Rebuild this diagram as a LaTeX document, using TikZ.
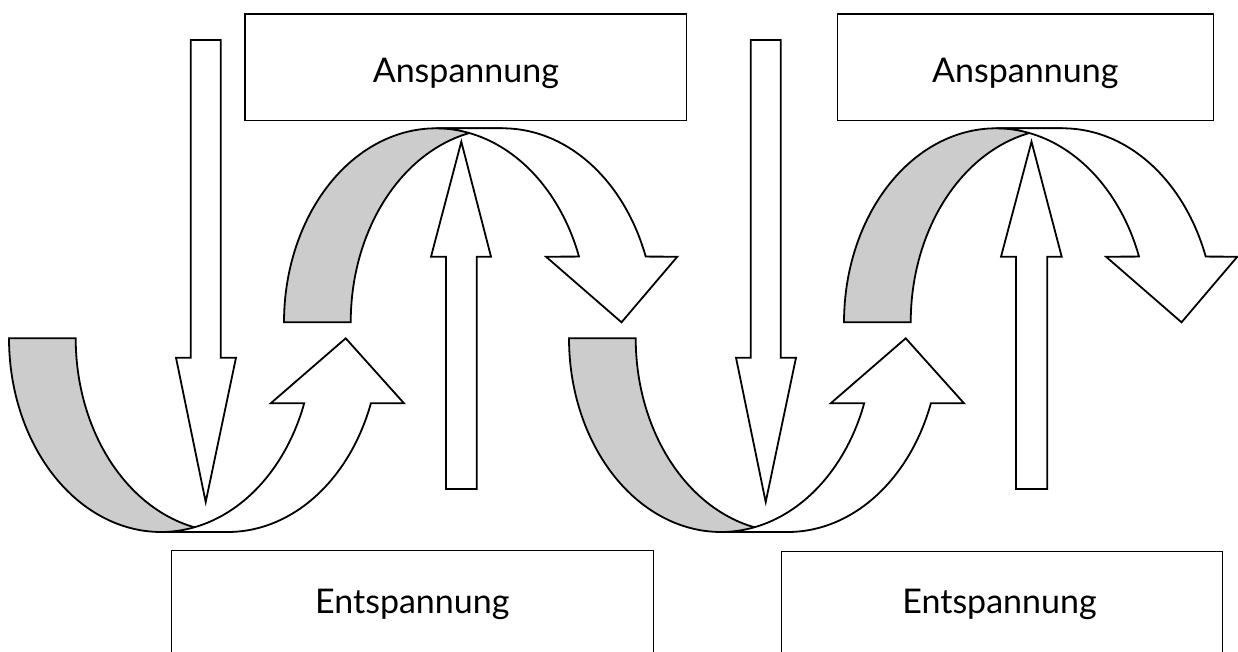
\documentclass[tikz,border=0pt]{standalone}
\usepackage{fontspec}
\setmainfont{Lato}
\definecolor{bandgray}{HTML}{CCCCCC}
\begin{document}
\begin{tikzpicture}[x=1pt,y=-1pt,
  arrowshape/.style={draw=black, line width=1.8pt, fill=white, line join=miter},
  grayband/.style={draw=black, line width=1.8pt, fill=bandgray, line join=miter},
  boxstyle/.style={draw=black, line width=1.4pt, fill=white, inner sep=0pt, rectangle},
  lbl/.style={font=\fontsize{34}{40}\selectfont, inner sep=0pt, anchor=base}]
\useasboundingbox (0,0) rectangle (1238,652);
\clip (0,0) rectangle (1238,652);

% boxes
\node[boxstyle, minimum width=441.7pt, minimum height=106.7pt] (a1) at (465.85,67.35) {};
\node[boxstyle, minimum width=376pt, minimum height=106.7pt] (a2) at (1025.5,67.35) {};
\node[boxstyle, minimum width=481.6pt, minimum height=119.3pt] (e1) at (412.5,610.35) {};
\node[boxstyle, minimum width=441pt, minimum height=118.3pt] (e2) at (1002.2,610.85) {};
\node[lbl] (ta1) at (465.85,83) {Anspannung};
\node[lbl] (ta2) at (1025.3,83) {Anspannung};
\node[lbl] (te1) at (412.3,613.3) {Entspannung};
\node[lbl] (te2) at (999.5,613.3) {Entspannung};

\foreach \s in {0,560}{
\begin{scope}[xshift=\s pt]
  % curved up arrow
  \filldraw[grayband] plot[domain=180:90,samples=60] ({161+152*cos(\x)},{338.3+193.7*sin(\x)})
     -- plot[domain=90:180,samples=60] ({227.7+152*cos(\x)},{338.3+193.7*sin(\x)}) -- cycle;
  \filldraw[arrowshape] plot[domain=90:19.6,samples=60] ({161+152*cos(\x)},{338.3+193.7*sin(\x)})
     -- (270.7,403.3) -- (345.7,338.3) -- (404,403.3)
     -- plot[domain=19.6:90,samples=60] ({227.7+152*cos(\x)},{338.3+193.7*sin(\x)}) -- cycle;
  % curved down arrow
  \filldraw[grayband] plot[domain=180:270,samples=60] ({436+152*cos(\x)},{322.3+194*sin(\x)})
     -- plot[domain=270:180,samples=60] ({502.7+152*cos(\x)},{322.3+194*sin(\x)}) -- cycle;
  \filldraw[arrowshape] plot[domain=270:340.2,samples=60] ({436+152*cos(\x)},{322.3+194*sin(\x)})
     -- (546,256.7) -- (621.5,322.3) -- (677.3,256.7)
     -- plot[domain=340.2:270,samples=60] ({502.7+152*cos(\x)},{322.3+194*sin(\x)}) -- cycle;
  % straight down arrow
  \filldraw[arrowshape] (190.7,40) -- (220.7,40) -- (220.7,357.7) -- (236,357.7) -- (205.7,502)
     -- (176,357.7) -- (190.7,357.7) -- cycle;
\end{scope}
}
% straight up arrows
\filldraw[arrowshape] (446,489) -- (476.7,489) -- (476.7,256.7) -- (491,256.7) -- (461.3,141.7)
   -- (431,256.7) -- (446,256.7) -- cycle;
\filldraw[arrowshape] (1016,489) -- (1047.3,489) -- (1047.3,256.7) -- (1061.7,256.7) -- (1031.5,141.7)
   -- (1001,256.7) -- (1016,256.7) -- cycle;
\end{tikzpicture}
\end{document}
